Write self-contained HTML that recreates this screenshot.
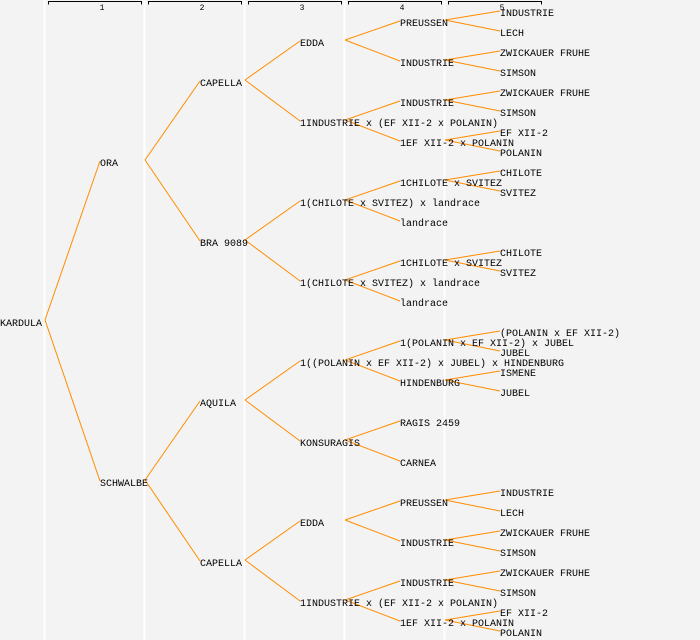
<!DOCTYPE html>
<html><head><meta charset="utf-8"><style>
html,body{margin:0;padding:0;background:#f3f3f3;}
svg{display:block;}
text{font-family:"Liberation Mono",monospace;font-size:10px;fill:#000;}
.h{font-size:8px;text-anchor:middle;}
</style></head><body>
<svg width="700" height="640" viewBox="0 0 700 640">
<rect width="700" height="640" fill="#f3f3f3"/>
<g stroke="#fff" stroke-width="2">
<line x1="44.5" y1="0" x2="44.5" y2="640"/><line x1="144.5" y1="0" x2="144.5" y2="640"/><line x1="244.5" y1="0" x2="244.5" y2="640"/><line x1="344.5" y1="0" x2="344.5" y2="640"/><line x1="444.5" y1="0" x2="444.5" y2="640"/>
</g>
<g stroke="#000" stroke-width="1" fill="none">
<path d="M48.5 4.5V1.5H141.5V4.5"/><path d="M148.5 4.5V1.5H241.5V4.5"/><path d="M248.5 4.5V1.5H341.5V4.5"/><path d="M348.5 4.5V1.5H441.5V4.5"/><path d="M448.5 4.5V1.5H541.5V4.5"/>
</g>
<text class="h" x="102" y="10">1</text><text class="h" x="202" y="10">2</text><text class="h" x="302" y="10">3</text><text class="h" x="402" y="10">4</text><text class="h" x="502" y="10">5</text>
<g stroke="#ff8c00" stroke-width="1" fill="none">
<path d="M45 320L100 161M45 320L100 481"/>
<path d="M145 160L200 81M145 160L200 241M145 480L200 401M145 480L200 561"/>
<path d="M245 80L300 41M245 80L300 121M245 240L300 201M245 240L300 281M245 400L300 361M245 400L300 441M245 560L300 521M245 560L300 601"/>
<path d="M345 40L400 21M345 40L400 61M345 120L400 101M345 120L400 141M345 200L400 181M345 200L400 221M345 280L400 261M345 280L400 301M345 360L400 341M345 360L400 381M345 440L400 421M345 440L400 461M345 520L400 501M345 520L400 541M345 600L400 581M345 600L400 621"/>
<path d="M445 20L500 11M445 20L500 31M445 60L500 51M445 60L500 71M445 100L500 91M445 100L500 111M445 140L500 131M445 140L500 151M445 180L500 171M445 180L500 191M445 260L500 251M445 260L500 271M445 340L500 331M445 340L500 351M445 380L500 371M445 380L500 391M445 500L500 491M445 500L500 511M445 540L500 531M445 540L500 551M445 580L500 571M445 580L500 591M445 620L500 611M445 620L500 631"/>
</g>
<text x="0" y="326">KARDULA</text>
<text x="100" y="166">ORA</text><text x="100" y="486">SCHWALBE</text>
<text x="200" y="86">CAPELLA</text><text x="200" y="246">BRA 9089</text><text x="200" y="406">AQUILA</text><text x="200" y="566">CAPELLA</text>
<text x="300" y="46">EDDA</text>
<text x="300" y="126">1INDUSTRIE x (EF XII-2 x POLANIN)</text>
<text x="300" y="206">1(CHILOTE x SVITEZ) x landrace</text>
<text x="300" y="286">1(CHILOTE x SVITEZ) x landrace</text>
<text x="300" y="366">1((POLANIN x EF XII-2) x JUBEL) x HINDENBURG</text>
<text x="300" y="446">KONSURAGIS</text>
<text x="300" y="526">EDDA</text>
<text x="300" y="606">1INDUSTRIE x (EF XII-2 x POLANIN)</text>
<text x="400" y="26">PREUSSEN</text><text x="400" y="66">INDUSTRIE</text><text x="400" y="106">INDUSTRIE</text><text x="400" y="146">1EF XII-2 x POLANIN</text>
<text x="400" y="186">1CHILOTE x SVITEZ</text><text x="400" y="226">landrace</text><text x="400" y="266">1CHILOTE x SVITEZ</text><text x="400" y="306">landrace</text>
<text x="400" y="346">1(POLANIN x EF XII-2) x JUBEL</text><text x="400" y="386">HINDENBURG</text><text x="400" y="426">RAGIS 2459</text><text x="400" y="466">CARNEA</text>
<text x="400" y="506">PREUSSEN</text><text x="400" y="546">INDUSTRIE</text><text x="400" y="586">INDUSTRIE</text><text x="400" y="626">1EF XII-2 x POLANIN</text>
<text x="500" y="16">INDUSTRIE</text><text x="500" y="36">LECH</text><text x="500" y="56">ZWICKAUER FRUHE</text><text x="500" y="76">SIMSON</text>
<text x="500" y="96">ZWICKAUER FRUHE</text><text x="500" y="116">SIMSON</text><text x="500" y="136">EF XII-2</text><text x="500" y="156">POLANIN</text>
<text x="500" y="176">CHILOTE</text><text x="500" y="196">SVITEZ</text><text x="500" y="256">CHILOTE</text><text x="500" y="276">SVITEZ</text>
<text x="500" y="336">(POLANIN x EF XII-2)</text><text x="500" y="356">JUBEL</text><text x="500" y="376">ISMENE</text><text x="500" y="396">JUBEL</text>
<text x="500" y="496">INDUSTRIE</text><text x="500" y="516">LECH</text><text x="500" y="536">ZWICKAUER FRUHE</text><text x="500" y="556">SIMSON</text>
<text x="500" y="576">ZWICKAUER FRUHE</text><text x="500" y="596">SIMSON</text><text x="500" y="616">EF XII-2</text><text x="500" y="636">POLANIN</text>
</svg>
</body></html>
